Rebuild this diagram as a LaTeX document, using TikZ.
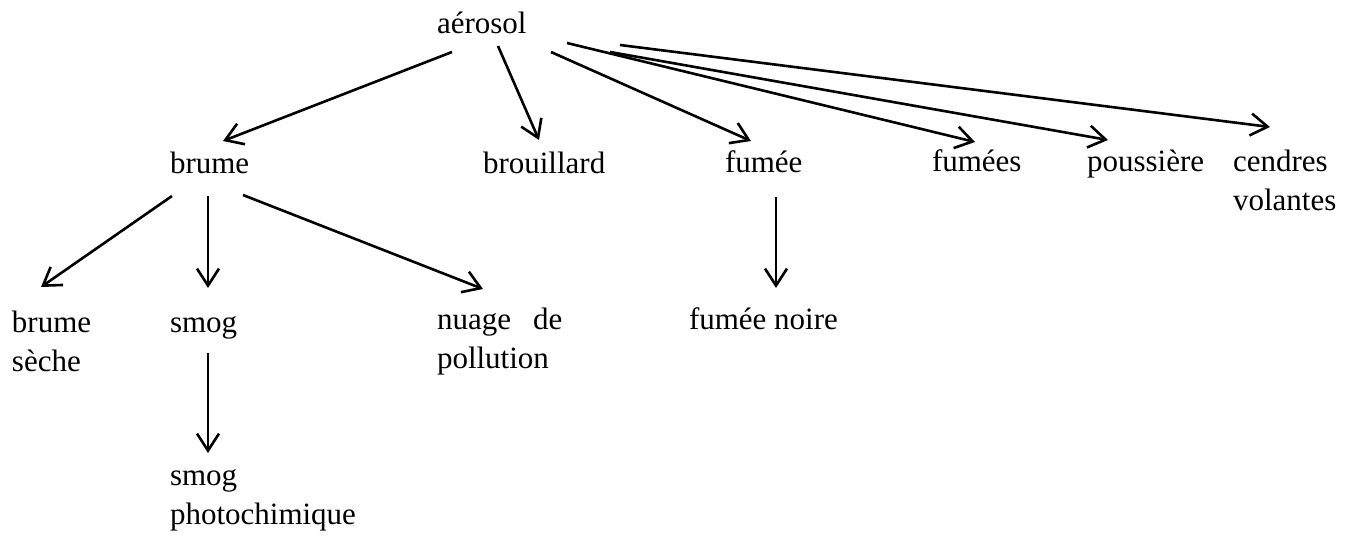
\documentclass[tikz,border=0pt]{standalone}
\usepackage{fontspec}
\setmainfont{Liberation Serif}
\usetikzlibrary{arrows.meta,calc}
\tikzset{
  lbl/.style={anchor=base west,inner sep=0pt,outer sep=0pt,font=\fontsize{31}{39}\selectfont},
  conn/.style={line width=2.6pt,-{Straight Barb[length=17pt,width=22pt,line width=2.6pt]}}
}
\newcommand{\twoline}[2]{\begin{tabular}[t]{@{}l@{}}#1\\#2\end{tabular}}
\begin{document}
\begin{tikzpicture}[x=1pt,y=-1pt]
\useasboundingbox (0,0) rectangle (1357,537);
\node[lbl] (aer) at (437,34) {aérosol};
\node[lbl] (brume) at (170,174) {brume};
\node[lbl] (brou) at (483,174) {brouillard};
\node[lbl] (fumee) at (725,173) {fumée};
\node[lbl] (fumees) at (932,172) {fumées};
\node[lbl] (pouss) at (1087,172) {poussière};
\node[lbl] (cendres) at (1233,172) {\twoline{cendres}{volantes}};
\node[lbl] (bs) at (12,332) {\twoline{brume}{sèche}};
\node[lbl] (smog) at (170,332) {smog};
\node[lbl] (nuage) at (437,330) {\twoline{nuage\hspace{22pt}de}{pollution}};
\node[lbl] (photo) at (170,485) {\twoline{smog}{photochimique}};
\node[lbl] (noire) at (689,330) {fumée noire};

\draw[conn] ($(aer.base west)+(15,18)$) -- ($(brume.base west)+(53,-33)$);
\draw[conn] ($(aer.base west)+(61,12)$) -- ($(brou.base west)+(56,-34)$);
\draw[conn] ($(aer.base west)+(114,18)$) -- ($(fumee.base west)+(26,-32)$);
\draw[conn] ($(aer.base west)+(130,9)$) -- ($(fumees.base west)+(43,-30)$);
\draw[conn] ($(aer.base west)+(173,18)$) -- ($(pouss.base west)+(21,-32)$);
\draw[conn] ($(aer.base west)+(183,11)$) -- ($(cendres.base west)+(37,-45)$);
\draw[conn] ($(brume.base west)+(2,22)$) -- ($(bs.base west)+(29,-45)$);
\draw[conn] ($(brume.base west)+(38,22)$) -- ($(smog.base west)+(38,-44)$);
\draw[conn] ($(brume.base west)+(73,21)$) -- ($(nuage.base west)+(46,-41)$);
\draw[conn] ($(smog.base west)+(38,21)$) -- ($(photo.base west)+(38,-32)$);
\draw[conn] ($(fumee.base west)+(51,24)$) -- ($(noire.base west)+(87,-42)$);
\end{tikzpicture}
\end{document}
